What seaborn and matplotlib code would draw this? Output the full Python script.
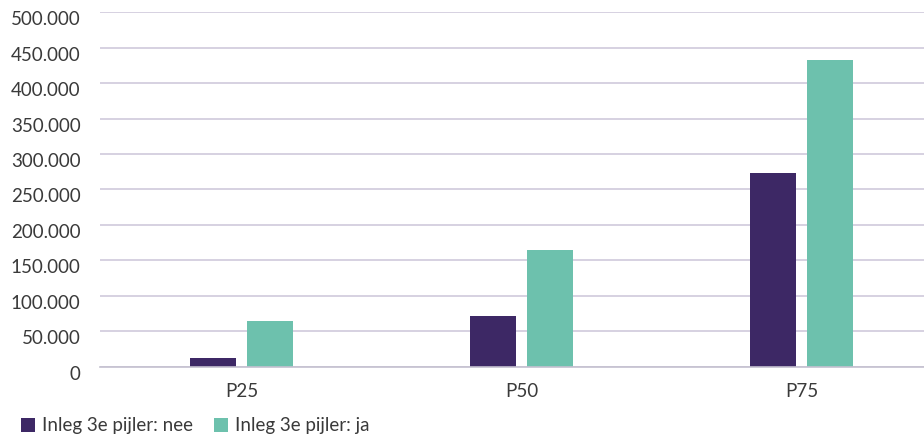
import matplotlib
matplotlib.use("Agg")
import matplotlib.pyplot as plt
import matplotlib.transforms as mtransforms
import seaborn as sns
import pandas as pd
from matplotlib.ticker import FuncFormatter, MultipleLocator
from matplotlib.patches import Patch

categories = ["P25", "P50", "P75"]
series_names = ["Inleg 3e pijler: nee", "Inleg 3e pijler: ja"]
nee_values = [12000, 71000, 273000]
ja_values = [64000, 164000, 432500]
colors = ["#3d2865", "#6dc1ad"]

df = pd.DataFrame({
    "cat": categories * 2,
    "serie": [series_names[0]] * 3 + [series_names[1]] * 3,
    "val": nee_values + ja_values,
})

sns.set_theme(style="white")
plt.rcParams["font.family"] = ["Lato", "DejaVu Sans"]
text_color = "#3a3a3a"

fig = plt.figure(figsize=(9.24, 4.38), dpi=100)
ax = fig.add_axes([100 / 924, 1 - 366.5 / 438, 1 - 100 / 924, (366.5 - 12.3) / 438])

sns.barplot(data=df, x="cat", y="val", hue="serie", palette=colors,
            width=0.407, gap=0.19, ax=ax, legend=False, saturation=1,
            linewidth=0, edgecolor="none")

ax.set_ylim(0, 500000)
ax.set_xlim(-0.505, 2.4375)
ax.yaxis.set_major_locator(MultipleLocator(50000))
ax.yaxis.set_major_formatter(FuncFormatter(lambda v, p: f"{v:,.0f}".replace(",", ".")))
ax.grid(axis="y", color="#cfcadb", linewidth=1.2)
ax.set_axisbelow(True)
for s in ["top", "right", "left"]:
    ax.spines[s].set_visible(False)
ax.spines["bottom"].set_color("#c4c0cf")
ax.spines["bottom"].set_linewidth(1.2)
ax.set_xlabel("")
ax.set_ylabel("")
ax.tick_params(axis="both", length=0, labelsize=13.5, colors=text_color)
ax.tick_params(axis="y", pad=14)
ax.tick_params(axis="x", pad=12)

offset = mtransforms.ScaledTranslation(0, -6 / 100, fig.dpi_scale_trans)
for lab in ax.get_yticklabels():
    lab.set_transform(lab.get_transform() + offset)

handles = [Patch(facecolor=c, edgecolor="none") for c in colors]
fig.legend(handles, series_names, loc="lower left", bbox_to_anchor=(0.004, -0.03),
           ncol=2, frameon=False, fontsize=13.5, handlelength=0.75, handleheight=0.75,
           handletextpad=0.4, columnspacing=1.1, labelcolor=text_color)

fig.savefig("out.png", dpi=100)
